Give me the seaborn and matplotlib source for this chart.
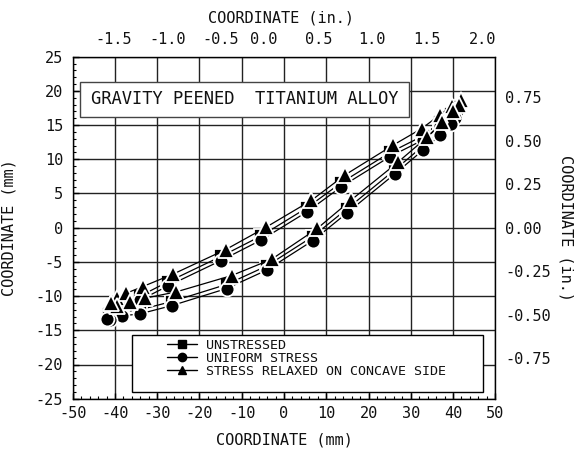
import numpy as np
import pandas as pd
import matplotlib
matplotlib.use("Agg")
import matplotlib.pyplot as plt
from matplotlib.lines import Line2D
from matplotlib.patches import Rectangle
from matplotlib.ticker import MultipleLocator, FixedLocator
import seaborn as sns

# ---------------- data (mm) ----------------
# closed outline: upper surface left->right, then lower surface right->left
unstressed_x = [-41.5, -40.5, -38.5, -34.1, -27.4, -14.9, -5.4, 5.4, 13.6, 25.1, 32.8, 36.9, 39.5, 41.0,
                40.5, 39.5, 36.9, 33.0, 26.3, 15.0, 6.8, -4.1, -13.6, -26.6, -34.1, -38.4, -41.0]
unstressed_y = [-12.6, -11.7, -11.0, -10.0, -7.9, -4.2, -1.2, 2.9, 6.6, 11.0, 13.4, 15.4, 16.6, 17.6,
                16.6, 15.8, 14.1, 12.0, 8.5, 2.8, -1.3, -5.6, -8.3, -10.8, -12.0, -12.3, -12.8]

uniform_x = [-41.8, -40.6, -38.6, -34.1, -27.4, -14.9, -5.4, 5.4, 13.6, 25.1, 32.8, 36.9, 39.4, 41.0,
             40.4, 39.4, 36.9, 33.0, 26.3, 15.0, 6.8, -4.1, -13.6, -26.6, -34.1, -38.4, -41.2]
uniform_y = [-13.3, -12.3, -11.7, -10.6, -8.5, -4.8, -1.8, 2.3, 6.0, 10.4, 12.8, 14.8, 16.0, 17.0,
             16.0, 15.2, 13.5, 11.4, 7.9, 2.2, -1.9, -6.2, -8.9, -11.4, -12.6, -12.9, -13.5]

relaxed_x = [-41.0, -39.6, -37.4, -33.4, -26.3, -13.8, -4.3, 6.5, 14.4, 25.9, 32.6, 36.9, 39.8, 42.0,
             41.5, 40.0, 37.5, 33.8, 27.0, 15.8, 7.9, -2.9, -12.4, -25.6, -32.9, -36.5, -39.5]
relaxed_y = [-11.0, -10.3, -9.6, -8.6, -6.8, -3.2, 0.05, 4.0, 7.7, 12.1, 14.5, 16.5, 17.8, 18.7,
             18.0, 17.0, 15.5, 13.2, 9.6, 4.0, -0.1, -4.6, -7.0, -9.4, -10.3, -10.8, -11.5]

series_names = ["UNSTRESSED", "UNIFORM STRESS", "STRESS RELAXED ON CONCAVE SIDE"]
series_markers = ["s", "o", "^"]

top_tick_labels = ["-1.5", "-1.0", "-0.5", "0.0", "0.5", "1.0", "1.5", "2.0"]
right_tick_inches = [-0.75, -0.50, -0.25, 0.00, 0.25, 0.50, 0.75]
right_tick_labels = ["-0.75", "-0.50", "-0.25", "0.00", "0.25", "0.50", "0.75"]
title_text = "GRAVITY PEENED  TITANIUM ALLOY"

# ---------------- style ----------------
sns.set_theme(style="white")
plt.rcParams["font.family"] = ["DejaVu Sans Mono", "DejaVu Sans"]
plt.rcParams["axes.unicode_minus"] = False
TXT = "#111111"

W, H = 577, 453
fig = plt.figure(figsize=(W / 100, H / 100), dpi=100)
L, R, T, B = 72.7, 495.3, 56.7, 398.7
ax = fig.add_axes([L / W, 1 - B / H, (R - L) / W, (B - T) / H])

ax.set_xlim(-50, 50)
ax.set_ylim(-25, 25)
ax.xaxis.set_major_locator(MultipleLocator(10))
ax.xaxis.set_minor_locator(MultipleLocator(2))
ax.yaxis.set_major_locator(MultipleLocator(5))
ax.yaxis.set_minor_locator(MultipleLocator(1))
ax.grid(True, which="major", color="#222222", lw=1.0)
ax.set_axisbelow(True)
for s in ax.spines.values():
    s.set_color("black")
    s.set_linewidth(1.0)
ax.tick_params(which="both", direction="in", top=True, right=True, labeltop=False,
               labelright=False, colors="black", labelcolor=TXT, labelsize=11)
ax.tick_params(which="major", length=4, width=1)
ax.tick_params(which="minor", length=2.5, width=0.8)
ax.tick_params(axis="x", pad=5)
ax.tick_params(axis="y", pad=7)

# ---------------- data lines ----------------
data = [(unstressed_x, unstressed_y), (uniform_x, uniform_y), (relaxed_x, relaxed_y)]
msizes = [10.0, 10.0, 11.5]
for (xs, ys), name, mk, ms in zip(data, series_names, series_markers, msizes):
    df = pd.DataFrame({"x": list(xs) + [xs[0]], "y": list(ys) + [ys[0]]})
    sns.lineplot(data=df, x="x", y="y", sort=False, estimator=None, ax=ax,
                 color="black", lw=0.9, marker=mk, markersize=ms,
                 markerfacecolor="black", markeredgecolor="white", markeredgewidth=1.3,
                 legend=False, zorder=3)

ax.set_xlabel("COORDINATE (mm)", fontsize=11, color=TXT)
ax.set_ylabel("COORDINATE (mm)", fontsize=11, color=TXT)
ax.xaxis.set_label_coords(0.5, -0.10)
ax.yaxis.set_label_coords(-0.132, 0.5)
ax.set_xticks(np.arange(-50, 51, 10))
ax.set_xticklabels([str(v) for v in range(-50, 51, 10)])
ax.set_yticks(np.arange(-25, 26, 5))
ax.set_yticklabels([str(v) for v in range(-25, 26, 5)])

# ---------------- top axis (inches) ----------------
top_pos_mm = [-40.2, -27.5, -15.1, -4.7, 8.2, 20.8, 33.9, 47.0]
axt = ax.twiny()
axt.set_xlim(ax.get_xlim())
axt.xaxis.set_major_locator(FixedLocator(top_pos_mm))
axt.set_xticklabels(top_tick_labels)
axt.tick_params(axis="x", length=0, pad=7, labelsize=11, colors=TXT)
axt.set_xlabel("COORDINATE (in.)", fontsize=11, color=TXT)
axt.xaxis.set_label_coords(0.494, 1.10)
axt.grid(False)

# ---------------- right axis (inches) ----------------
axr = ax.twinx()
axr.set_ylim(ax.get_ylim())
axr.yaxis.set_major_locator(FixedLocator([v * 25.4 for v in right_tick_inches]))
axr.set_yticklabels(right_tick_labels)
axr.tick_params(axis="y", length=0, pad=7, labelsize=11, colors=TXT)
axr.set_ylabel("COORDINATE (in.)", fontsize=11, color=TXT, rotation=-90, va="center")
axr.yaxis.set_label_coords(1.168, 0.5)
axr.grid(False)
for a in (axt, axr):
    for s in a.spines.values():
        s.set_visible(False)

# ---------------- title box ----------------
ax.add_patch(Rectangle((0.0173, 0.8246), 0.7774, 0.1023, transform=ax.transAxes,
                       facecolor="white", edgecolor="#444444", lw=1.0, zorder=5))
ax.text(0.406, 0.8757, title_text, transform=ax.transAxes, ha="center", va="center",
        fontsize=12.3, color=TXT, zorder=6)

# ---------------- legend ----------------
ax.add_patch(Rectangle((0.140, 0.020), 0.832, 0.166, transform=ax.transAxes,
                       facecolor="white", edgecolor="black", lw=1.0, zorder=5))
handles = [Line2D([], [], color="black", lw=1.0, marker=m, markersize=6,
                  markerfacecolor="black", markeredgecolor="black") for m in series_markers]
leg = ax.legend(handles, series_names, loc="upper left", bbox_to_anchor=(0.2226, 0.176),
                frameon=False, fontsize=9.6, handlelength=2.3, handletextpad=0.65,
                labelspacing=0.0, borderpad=0, borderaxespad=0)
for t in leg.get_texts():
    t.set_color(TXT)
leg.set_zorder(6)

fig.savefig("out.png", dpi=100)
